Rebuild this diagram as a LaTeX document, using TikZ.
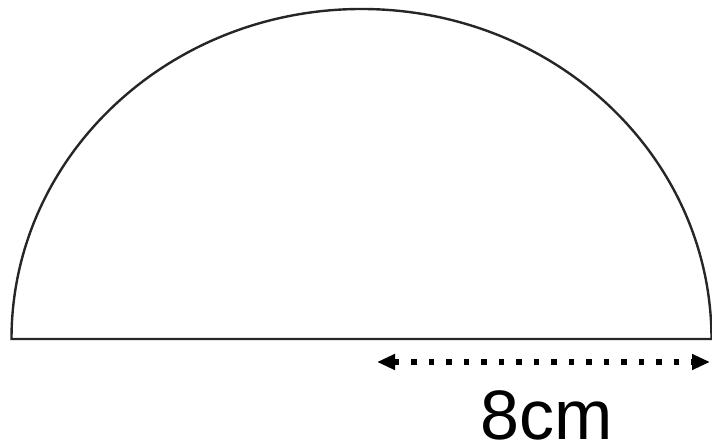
\documentclass[tikz,border=0pt]{standalone}
\usepackage{fontspec}
\newfontfamily\labelfont{Liberation Sans}
\usetikzlibrary{arrows.meta}
\begin{document}
\begin{tikzpicture}[x=1pt,y=1pt,
  shape line/.style={line width=2.4pt, draw=black!85, line join=miter},
  dim line/.style={line width=5.5pt, dash pattern=on 5.5pt off 12pt,
     {Triangle[length=18pt,width=15pt]}-{Triangle[length=18pt,width=15pt]}},
  dim label/.style={font=\labelfont\fontsize{70}{80}\selectfont, anchor=base, inner sep=0pt}]
\useasboundingbox (0,0) rectangle (712,446);
% semicircle (ellipse arc), center (361.5, 107), rx=350, ry=330
\coordinate (L) at (11.5,107);
\coordinate (E) at (712,107);
\draw[shape line] (E) -- (L) arc[start angle=180, end angle=0, x radius=350, y radius=330];
% dimension arrow
\coordinate (A1) at (377,84);
\coordinate (A2) at (710,84);
\draw[dim line] (A1) -- (A2);
\node[dim label] (lab) at (546.5,6.5) {8cm};
\end{tikzpicture}
\end{document}
